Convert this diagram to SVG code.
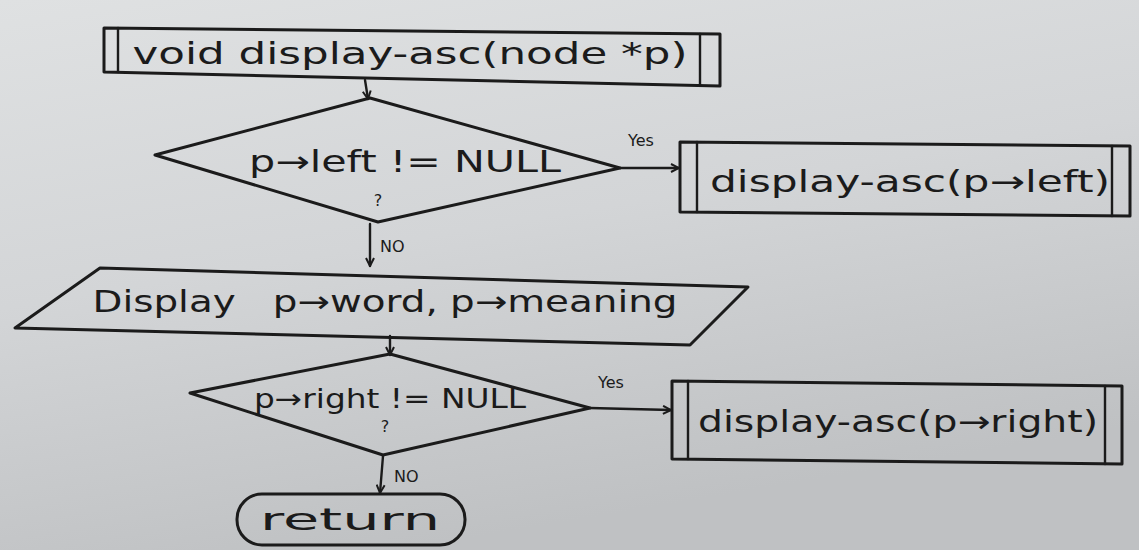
<svg xmlns="http://www.w3.org/2000/svg" width="1139" height="550" viewBox="0 0 1139 550">
  <defs>
    <linearGradient id="paper" x1="0" y1="0" x2="0.35" y2="1">
      <stop offset="0" stop-color="#dfe1e2"/>
      <stop offset="0.5" stop-color="#d3d5d7"/>
      <stop offset="1" stop-color="#bfc1c3"/>
    </linearGradient>
    <marker id="arrow" viewBox="0 0 10 10" refX="9" refY="5" markerWidth="10" markerHeight="10" orient="auto-start-reverse" markerUnits="userSpaceOnUse">
      <path d="M1,1 L9,5 L1,9" fill="none" stroke="#1b1b1b" stroke-width="2"/>
    </marker>
    <style>
      .ink { fill: none; stroke: #1b1b1b; stroke-width: 3; stroke-linejoin: round; stroke-linecap: round; }
      .thin { fill: none; stroke: #1b1b1b; stroke-width: 2.4; stroke-linecap: round; }
      .lbl { font-family: "DejaVu Sans", "Liberation Sans", sans-serif; fill: #1b1b1b; }
      .big { font-size: 30px; }
      .mid { font-size: 27px; }
      .small { font-size: 16px; }
    </style>
  </defs>

  <rect x="0" y="0" width="1139" height="550" fill="url(#paper)"/>

  <!-- start: function header -->
  <g id="node-start">
    <polygon class="ink" points="104,28 720,34 720,86 104,72"/>
    <line class="thin" x1="118" y1="28" x2="118" y2="72"/>
    <line class="thin" x1="700" y1="34" x2="700" y2="85"/>
    <text class="lbl big" x="410" y="64" text-anchor="middle" textLength="555" lengthAdjust="spacingAndGlyphs">void display-asc(node *p)</text>
  </g>

  <!-- decision: left child -->
  <g id="node-left-check">
    <polygon class="ink" points="370,98 620,168 378,222 155,155"/>
    <text class="lbl big" x="405" y="172" text-anchor="middle" textLength="312" lengthAdjust="spacingAndGlyphs">p→left != NULL</text>
    <text class="lbl small" x="378" y="206" text-anchor="middle">?</text>
  </g>

  <!-- recursive call on left subtree -->
  <g id="node-left-call">
    <polygon class="ink" points="680,142 1130,146 1130,216 680,212"/>
    <line class="thin" x1="697" y1="142" x2="697" y2="212"/>
    <line class="thin" x1="1112" y1="146" x2="1112" y2="216"/>
    <text class="lbl big" x="910" y="192" text-anchor="middle" textLength="400" lengthAdjust="spacingAndGlyphs">display-asc(p→left)</text>
  </g>

  <!-- output of the current node -->
  <g id="node-display">
    <polygon class="ink" points="100,268 748,287 690,345 15,328"/>
    <text class="lbl big" x="385" y="312" text-anchor="middle" textLength="585" lengthAdjust="spacingAndGlyphs">Display&#160;&#160;&#160;p→word, p→meaning</text>
  </g>

  <!-- decision: right child -->
  <g id="node-right-check">
    <polygon class="ink" points="390,354 590,408 383,455 190,393"/>
    <text class="lbl mid" x="390" y="408" text-anchor="middle" textLength="272" lengthAdjust="spacingAndGlyphs">p→right != NULL</text>
    <text class="lbl small" x="385" y="432" text-anchor="middle">?</text>
  </g>

  <!-- recursive call on right subtree -->
  <g id="node-right-call">
    <polygon class="ink" points="672,381 1122,386 1122,464 672,459"/>
    <line class="thin" x1="688" y1="381" x2="688" y2="459"/>
    <line class="thin" x1="1105" y1="386" x2="1105" y2="464"/>
    <text class="lbl big" x="898" y="432" text-anchor="middle" textLength="400" lengthAdjust="spacingAndGlyphs">display-asc(p→right)</text>
  </g>

  <!-- end terminal -->
  <g id="node-return">
    <rect class="ink" x="237" y="494" width="228" height="51" rx="25" ry="25"/>
    <text class="lbl big" x="350" y="530" text-anchor="middle" textLength="180" lengthAdjust="spacingAndGlyphs">return</text>
  </g>

  <!-- connectors -->
  <g id="connectors">
    <line class="thin" x1="365" y1="80" x2="368" y2="99" marker-end="url(#arrow)"/>
    <line class="thin" x1="620" y1="168" x2="679" y2="168" marker-end="url(#arrow)"/>
    <line class="thin" x1="370" y1="224" x2="370" y2="266" marker-end="url(#arrow)"/>
    <line class="thin" x1="390" y1="336" x2="390" y2="355" marker-end="url(#arrow)"/>
    <line class="thin" x1="590" y1="408" x2="671" y2="410" marker-end="url(#arrow)"/>
    <line class="thin" x1="383" y1="456" x2="380" y2="493" marker-end="url(#arrow)"/>
    <text class="lbl small" x="628" y="146">Yes</text>
    <text class="lbl small" x="380" y="252">NO</text>
    <text class="lbl small" x="598" y="388">Yes</text>
    <text class="lbl small" x="394" y="482">NO</text>
  </g>
</svg>
